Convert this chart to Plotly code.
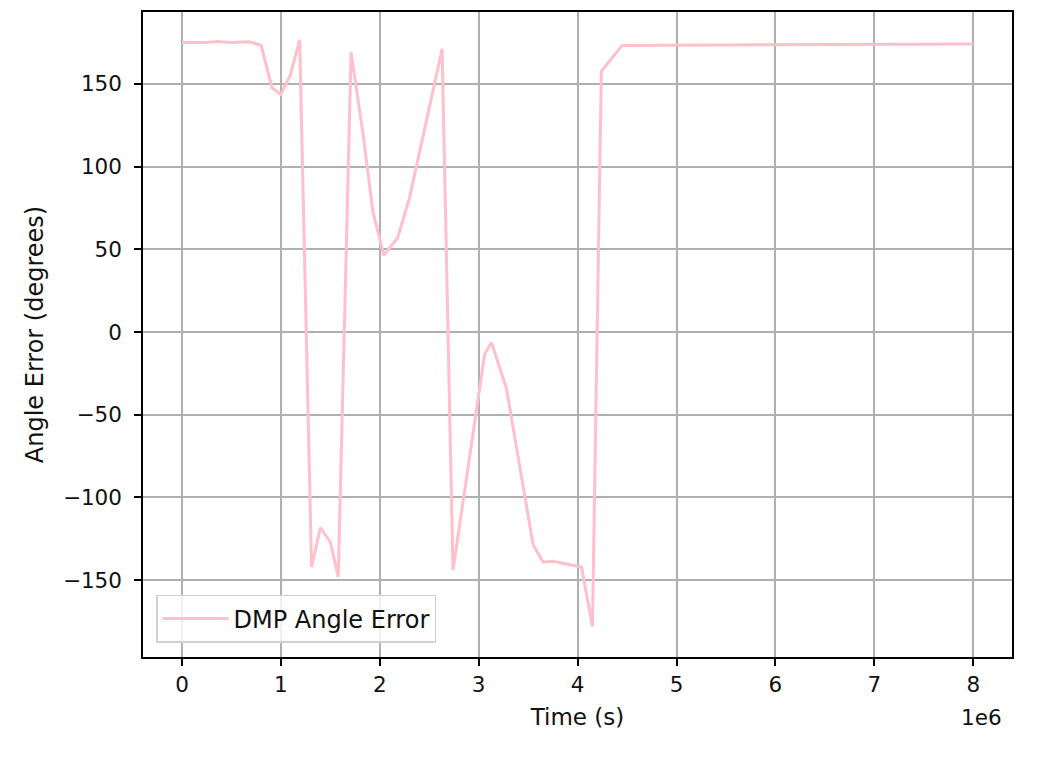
import numpy as np
import plotly.graph_objects as go

# time in units of 1e6 s
time_mega = [0.0, 0.23, 0.36, 0.50, 0.68, 0.80, 0.91, 1.00, 1.095, 1.19,
             1.31, 1.40, 1.50, 1.58, 1.71, 1.83, 1.93, 2.04, 2.18, 2.30,
             2.63, 2.74, 3.06, 3.13, 3.28, 3.55, 3.65, 3.75, 4.04, 4.15,
             4.24, 4.45, 8.0]
angle_error = [174.9, 175.0, 175.6, 174.9, 175.4, 173.3, 147.6, 143.6, 155.2, 176.5,
               -142.0, -118.3, -126.9, -148.0, 169.0, 120.0, 72.9, 46.4, 56.8, 80.9,
               171.0, -144.0, -13.5, -6.4, -34.0, -128.5, -139.0, -138.6, -142.0, -178.0,
               157.6, 173.2, 174.1]

x_ticks = [0, 1, 2, 3, 4, 5, 6, 7, 8]
y_ticks = [-150, -100, -50, 0, 50, 100, 150]

time = np.array(time_mega) * 1e6

fig = go.Figure()
fig.add_trace(go.Scatter(x=time, y=angle_error, mode="lines",
                         name="DMP Angle Error",
                         line=dict(color="#FFC0CB", width=3)))

axis_style = dict(showgrid=True, gridcolor="#b0b0b0", gridwidth=1.5,
                  showline=True, linecolor="black", linewidth=1.5, mirror=True,
                  ticks="outside", ticklen=7, tickwidth=1.5, tickcolor="black",
                  zeroline=False, tickfont=dict(size=21.5, color="#111"))

fig.update_xaxes(range=[-0.394e6, 8.392e6],
                 tickvals=[v * 1e6 for v in x_ticks],
                 ticktext=[str(v) for v in x_ticks],
                 title=dict(text="Time (s)", standoff=13, font=dict(size=23)),
                 **axis_style)
fig.update_yaxes(range=[-196.4, 193.4],
                 tickvals=y_ticks,
                 ticktext=[str(v).replace("-", "\u2212") for v in y_ticks],
                 ticklabelstandoff=8,
                 title=dict(text="Angle Error (degrees)", standoff=12, font=dict(size=24)),
                 **axis_style)

fig.add_annotation(text="1e6", xref="paper", yref="paper", x=1.0, y=0,
                   xanchor="right", yanchor="top", yshift=-46, xshift=-8,
                   showarrow=False, font=dict(size=21.5, color="#111"))

fig.update_layout(
    width=1045, height=745,
    margin=dict(l=135, r=41, t=2, b=96),
    plot_bgcolor="white", paper_bgcolor="white",
    font=dict(family="DejaVu Sans", size=21.5, color="#111"),
    legend=dict(x=0.015, y=0.022, xanchor="left", yanchor="bottom",
                bgcolor="rgba(255,255,255,0.8)", bordercolor="#d0d0d0",
                borderwidth=1.5, font=dict(size=24), itemwidth=66),
    showlegend=True,
)

fig.write_html("out.html")
